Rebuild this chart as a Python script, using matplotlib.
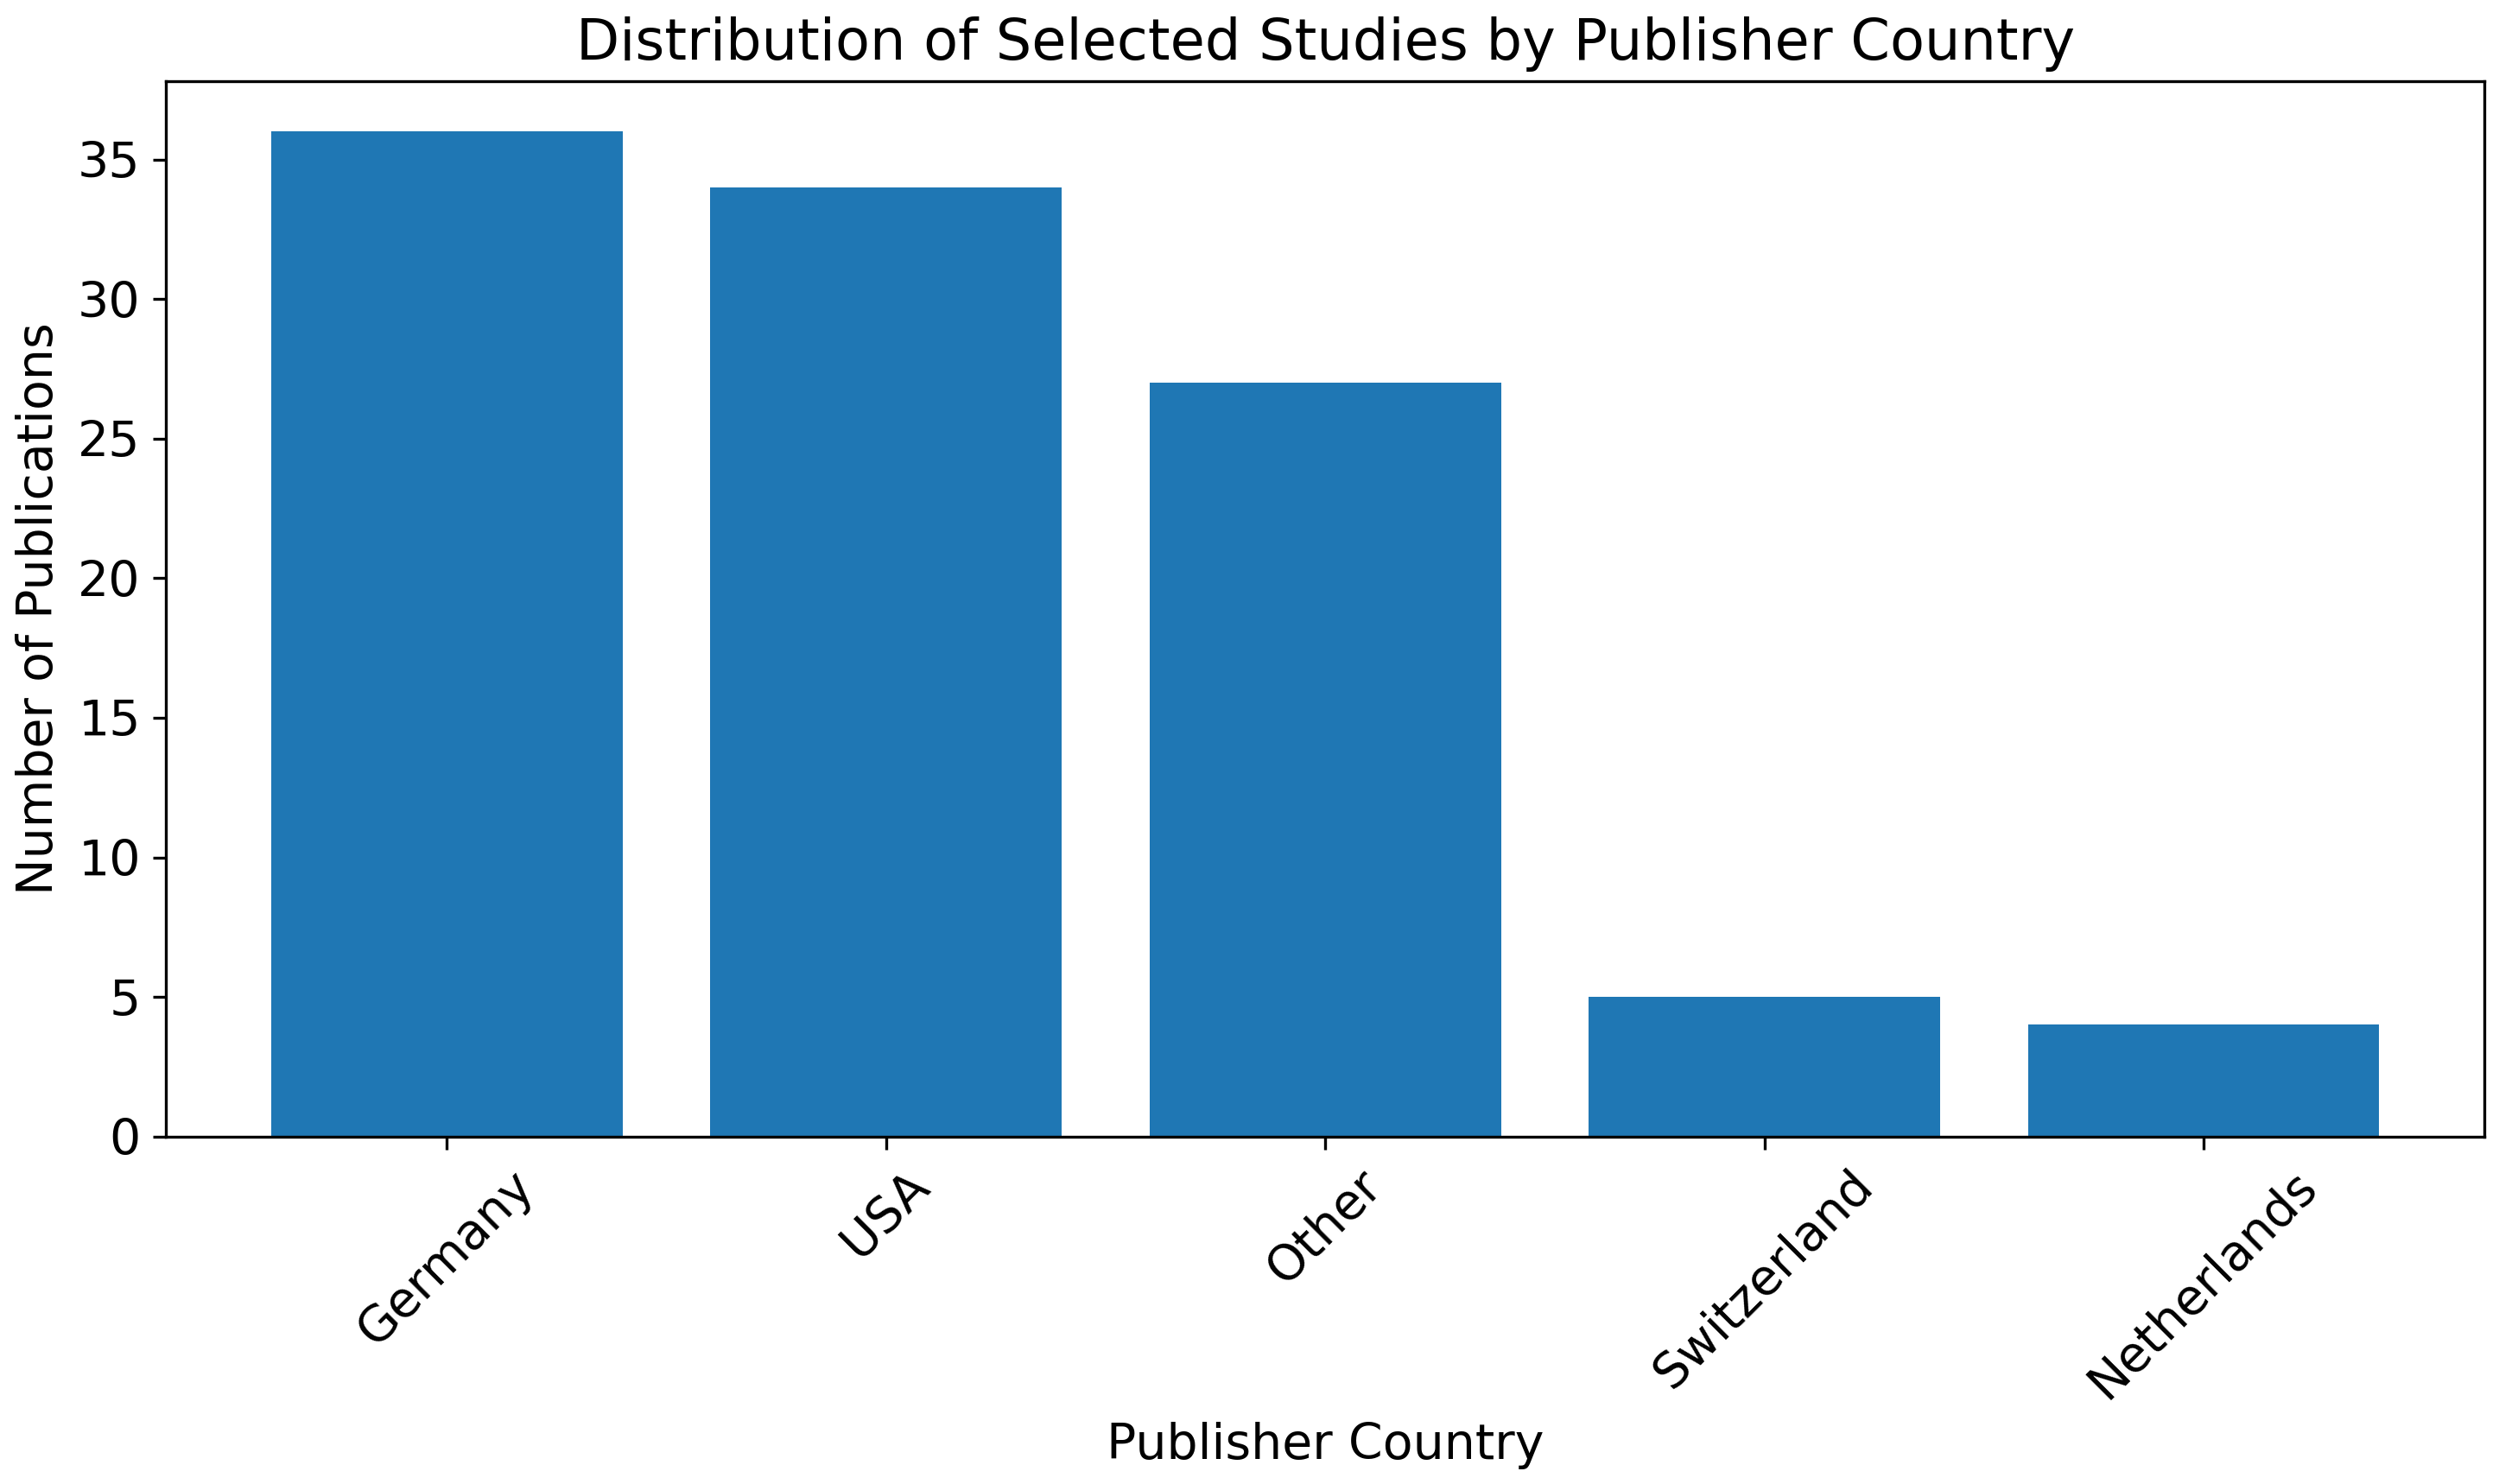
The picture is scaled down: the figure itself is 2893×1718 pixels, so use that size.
import matplotlib
matplotlib.use("Agg")
import matplotlib.pyplot as plt

countries = ["Germany", "USA", "Other", "Switzerland", "Netherlands"]
counts = [36, 34, 27, 5, 4]

fig, ax = plt.subplots(figsize=(2893/300, 1718/300), dpi=300)
ax.bar(countries, counts, color="#1f77b4")
ax.set_title("Distribution of Selected Studies by Publisher Country", fontsize=15.7)
ax.set_xlabel("Publisher Country", fontsize=13.7)
ax.set_ylabel("Number of Publications", fontsize=13.7)
ax.tick_params(axis="both", labelsize=13.7)
plt.setp(ax.get_xticklabels(), rotation=45)
fig.subplots_adjust(left=104/1568, right=1559/1568, top=1-51/931, bottom=1-713/931)
fig.savefig("out.png", dpi=300)
